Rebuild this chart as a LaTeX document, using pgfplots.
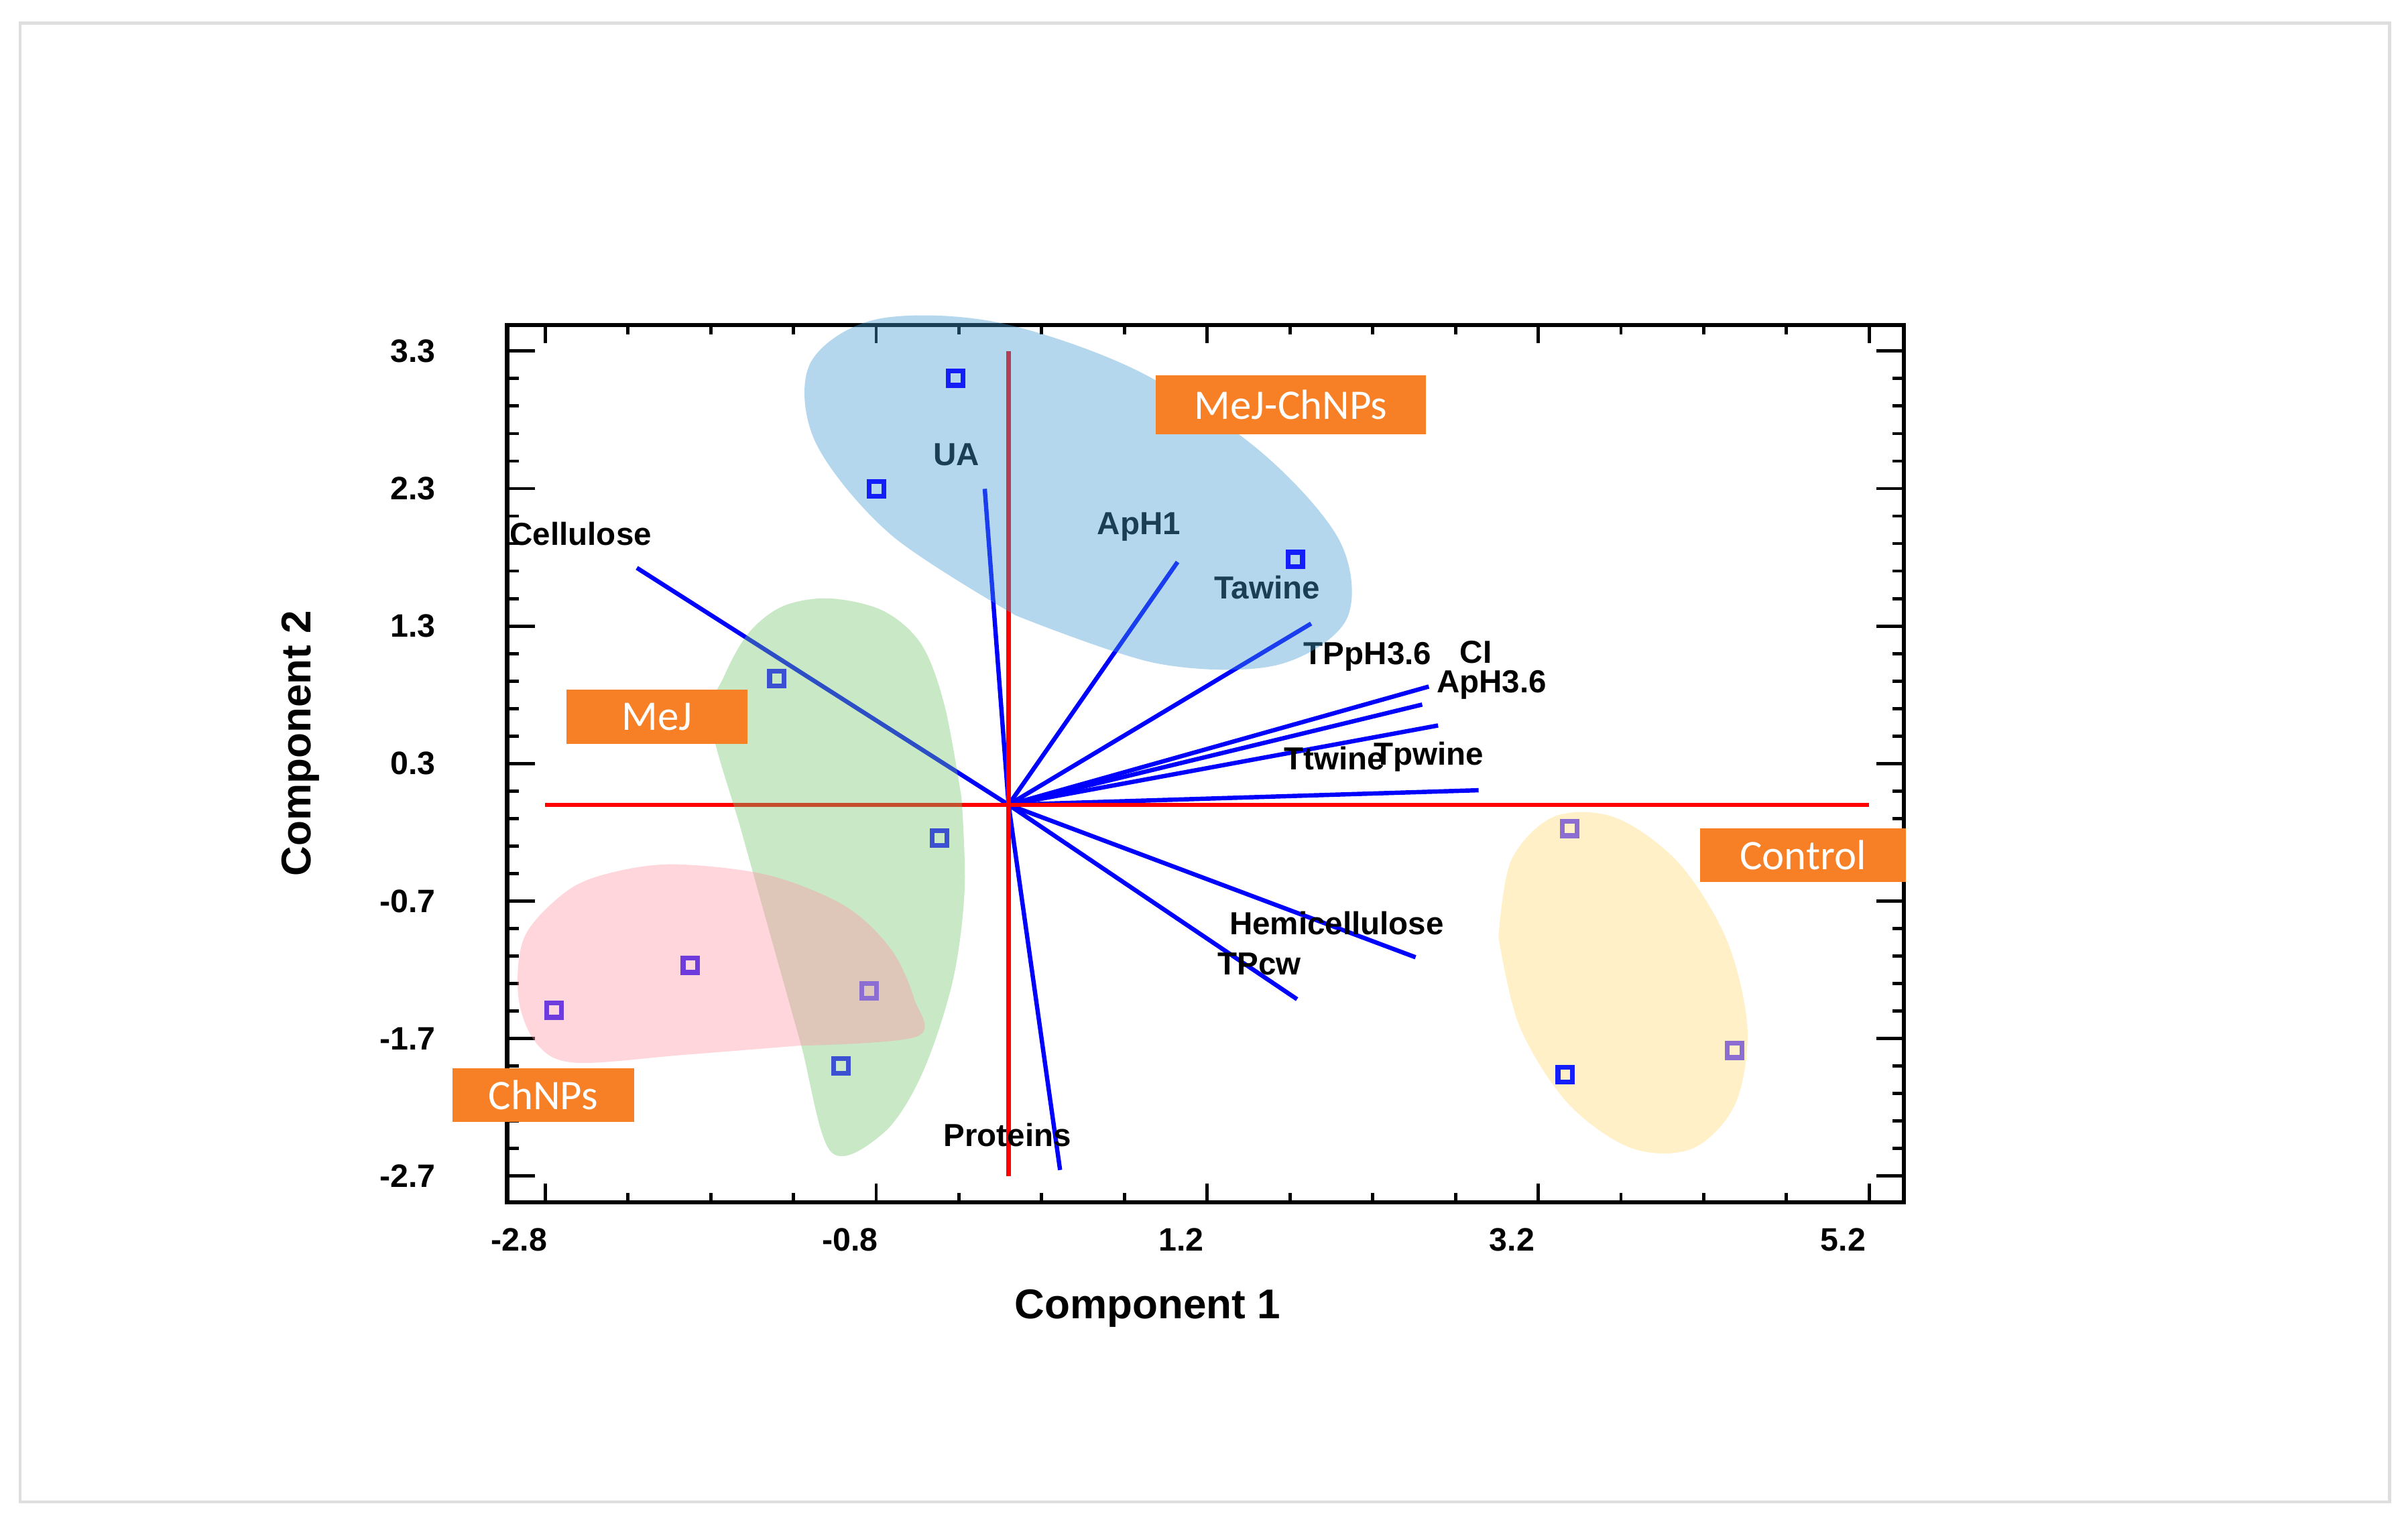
\documentclass[border=0pt]{standalone}
\usepackage{fontspec}
\setmainfont{Liberation Sans}
\newfontfamily\calibri{Carlito}
\usepackage{pgfplots}
\pgfplotsset{compat=1.18}
\usetikzlibrary{calc}

\definecolor{boxorange}{RGB}{247,127,38}
\definecolor{fillblue}{RGB}{67,155,212}
\definecolor{fillgreen}{RGB}{117,197,112}
\definecolor{fillpink}{RGB}{255,152,167}
\definecolor{fillyellow}{RGB}{255,217,117}
\definecolor{mkblue}{RGB}{20,30,250}
\definecolor{mkmej}{RGB}{60,80,210}
\definecolor{mkviolet}{RGB}{110,60,220}
\definecolor{mklilac}{RGB}{140,110,210}
\definecolor{framegray}{RGB}{222,222,222}

\newcommand\ticksfont{\fontsize{6}{7}\selectfont\bfseries}
\newcommand\labfont{\fontsize{5.9}{7}\selectfont\bfseries}
\newcommand\axfont{\fontsize{7.7}{9}\selectfont\bfseries}
\newcommand\boxfont{\calibri\fontsize{7.8}{9}\selectfont}

\tikzset{
  vec/.style={blue, line width=0.8pt, no marks},
  refline/.style={red, line width=0.75pt, no marks},
  score/.style={only marks, mark=square, mark size=1.35pt, mark options={line width=0.9pt, solid}},
  area/.style={no marks, smooth, tension=0.55, draw=none, fill opacity=0.4},
  grp/.style={fill=boxorange, text=white, font=\boxfont, inner sep=0pt, minimum height=0.35cm},
}

\begin{document}
\begin{tikzpicture}
\begin{axis}[
    scale only axis,
    width=9.09cm, height=5.71cm,
    xmin=-3.03, xmax=5.41,
    ymin=-2.89, ymax=3.49,
    clip=false,
    axis line style={line width=0.8pt},
    xtick={-2.8,-0.8,1.2,3.2,5.2},
    xticklabels={-2.8,-0.8,1.2,3.2,5.2},
    ytick={-2.7,-1.7,-0.7,0.3,1.3,2.3,3.3},
    yticklabels={-2.7,-1.7,-0.7,0.3,1.3,2.3,3.3},
    minor x tick num=3,
    minor y tick num=4,
    tick style={black, line width=0.6pt},
    xtick style={/pgfplots/major tick length=0.12cm, /pgfplots/minor tick length=0.06cm},
    ytick style={/pgfplots/major tick length=0.18cm, /pgfplots/minor tick length=0.075cm},
    xticklabel style={font=\ticksfont, inner sep=0pt, anchor=center, yshift=-0.245cm, xshift=-0.17cm},
    yticklabel style={font=\ticksfont, inner sep=0pt, anchor=east, xshift=-0.46cm},
    xlabel={Component 1},
    ylabel={Component 2},
    xlabel style={font=\axfont, at={(axis description cs:0.4585,-0.121)}, anchor=center},
    ylabel style={font=\axfont, at={(axis description cs:-0.148,0.523)}, anchor=center},
]
\coordinate (sw) at (rel axis cs:0,0);
\coordinate (ne) at (rel axis cs:1,1);

% loading vectors
\addplot[vec] coordinates {(0,0) (-2.246,1.723)};
\addplot[vec] coordinates {(0,0) (-0.144,2.298)};
\addplot[vec] coordinates {(0,0) (1.021,1.766)};
\addplot[vec] coordinates {(0,0) (1.828,1.318)};
\addplot[vec] coordinates {(0,0) (2.539,0.860)};
\addplot[vec] coordinates {(0,0) (2.499,0.729)};
\addplot[vec] coordinates {(0,0) (2.595,0.577)};
\addplot[vec] coordinates {(0,0) (2.840,0.106)};
\addplot[vec] coordinates {(0,0) (2.459,-1.109)};
\addplot[vec] coordinates {(0,0) (1.743,-1.414)};
\addplot[vec] coordinates {(0,0) (0.311,-2.656)};

% reference lines
\addplot[refline] coordinates {(-2.8,0) (5.2,0)};
\addplot[refline] coordinates {(0,-2.7) (0,3.3)};

% variable labels
\node[font=\labfont, anchor=west, inner sep=0pt] at (axis cs:-3.02,1.971) {Cellulose};
\node[font=\labfont] at (axis cs:-0.314,2.546) {UA};
\node[font=\labfont] at (axis cs:0.788,2.023) {ApH1};
\node[font=\labfont] at (axis cs:1.561,1.579) {Tawine};
\node[font=\labfont] at (axis cs:2.169,1.078) {TPpH3.6};
\node[font=\labfont] at (axis cs:2.823,1.108) {CI};
\node[font=\labfont] at (axis cs:2.919,0.873) {ApH3.6};
\node[font=\labfont] at (axis cs:1.969,0.337) {Ttwine};
\node[font=\labfont] at (axis cs:2.539,0.350) {Tpwine};
\node[font=\labfont] at (axis cs:1.982,-0.861) {Hemicellulose};
\node[font=\labfont] at (axis cs:1.516,-1.157) {TPcw};
\node[font=\labfont] at (axis cs:-0.007,-2.399) {Proteins};

% scores
\addplot[score, mkblue] coordinates {(-0.320,3.104) (-0.797,2.298) (1.732,1.784)};
\addplot[score, mkmej] coordinates {(-1.400,0.917) (-0.417,-0.242) (-1.013,-1.898)};
\addplot[score, mkviolet] coordinates {(-2.747,-1.493) (-1.922,-1.166)};
\addplot[score, mklilac] coordinates {(-0.843,-1.353)};
\addplot[score, mklilac] coordinates {(3.391,-0.172) (4.386,-1.785)};
\addplot[score, mkblue] coordinates {(3.363,-1.963)};

% group areas
\addplot[area, fill=fillblue] coordinates {
  (0.043,1.377) (0.893,1.029) (1.613,1.014) (2.040,1.345) (2.000,1.920)
  (1.514,2.578) (0.764,3.166) (-0.086,3.513) (-0.806,3.529) (-1.200,3.207)
  (-1.166,2.635) (-0.711,1.964) (0.043,1.377)} -- cycle;
\addplot[area, fill=fillgreen] coordinates {
  (-0.284,0.047) (-0.266,-0.623) (-0.340,-1.294) (-0.526,-1.965) (-0.758,-2.389)
  (-1.074,-2.523) (-1.255,-1.741) (-1.437,-0.958) (-1.618,-0.176) (-1.799,0.606)
  (-1.716,0.942) (-1.567,1.255) (-1.362,1.445) (-1.083,1.501) (-0.758,1.411)
  (-0.526,1.165) (-0.386,0.718) (-0.284,0.047)} -- cycle;
\addplot[area, fill=fillpink] coordinates {
  (-1.269,-1.752) (-1.966,-1.819) (-2.617,-1.876) (-2.849,-1.741) (-2.961,-1.406)
  (-2.924,-0.958) (-2.664,-0.623) (-2.385,-0.489) (-2.011,-0.433) (-1.455,-0.511)
  (-0.990,-0.735) (-0.712,-1.048) (-0.572,-1.406) (-0.554,-1.685) (-1.269,-1.752)} -- cycle;
\addplot[area, fill=fillyellow] coordinates {
  (2.960,-0.962) (3.086,-1.608) (3.378,-2.169) (3.761,-2.496) (4.130,-2.501)
  (4.388,-2.182) (4.464,-1.626) (4.338,-0.980) (4.046,-0.419) (3.663,-0.092)
  (3.294,-0.087) (3.036,-0.406) (2.960,-0.962)} -- cycle;

% group names
\node[grp, minimum width=1.76cm, minimum height=0.38cm] at (axis cs:1.705,2.909) {MeJ-ChNPs};
\node[grp, minimum width=1.18cm] at (axis cs:-2.124,0.640) {MeJ};
\node[grp, minimum width=1.34cm] at (axis cs:4.80,-0.366) {Control};
\node[grp, minimum width=1.18cm] at (axis cs:-2.812,-2.110) {ChNPs};
\end{axis}
\path ([shift={(-3.30cm,-2.08cm)}]sw) rectangle ([shift={(3.28cm,2.115cm)}]ne);
\draw[framegray, line width=0.55pt] ([shift={(-3.17cm,-1.95cm)}]sw) rectangle ([shift={(3.16cm,1.965cm)}]ne);
\end{tikzpicture}
\end{document}
